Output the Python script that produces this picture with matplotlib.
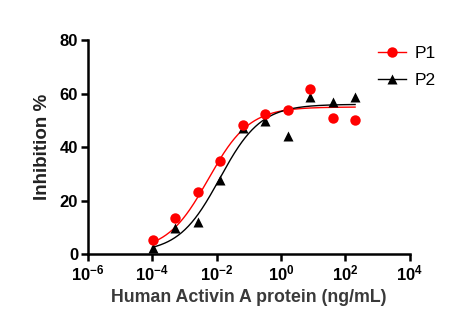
import numpy as np
import matplotlib.pyplot as plt
from matplotlib.ticker import FixedLocator, NullLocator

plt.rcParams['font.family'] = ['Liberation Sans', 'DejaVu Sans']
plt.rcParams['mathtext.fontset'] = 'custom'
plt.rcParams['mathtext.rm'] = 'Liberation Sans:bold'
plt.rcParams['mathtext.bf'] = 'Liberation Sans:bold'
plt.rcParams['mathtext.it'] = 'Liberation Sans:bold'

# concentrations (ng/mL), 5-fold dilution from 200
conc = [200, 40, 8, 1.6, 0.32, 0.064, 0.0128, 0.00256, 0.000512, 0.0001024]
p1 = [50.1, 50.8, 61.7, 53.8, 52.3, 48.2, 34.8, 23.2, 13.5, 5.2]
p2 = [58.7, 56.8, 58.7, 44.0, 49.7, 47.0, 27.7, 12.0, 9.7, 2.2]

xtick_vals = [1e-6, 1e-4, 1e-2, 1, 1e2, 1e4]
xtick_labels = ['$10^{-6}$', '$10^{-4}$', '$10^{-2}$', '$10^{0}$', '$10^{2}$', '$10^{4}$']

# 4PL fit parameters: bottom, top, EC50, hill
fit_p1 = (1.0, 55.0, 0.0055, 0.68)
fit_p2 = (0.5, 56.0, 0.0125, 0.68)


def four_pl(x, bottom, top, ec50, hill):
    return bottom + (top - bottom) / (1 + (ec50 / x) ** hill)


fig = plt.figure(figsize=(4.62, 3.16), dpi=100)
ax = fig.add_axes([0.190, 0.196, 0.697, 0.677])

xx = np.logspace(np.log10(min(conc)), np.log10(max(conc)), 300)
ax.plot(xx, four_pl(xx, *fit_p1), color='red', lw=1.0)
ax.plot(xx, four_pl(xx, *fit_p2), color='black', lw=1.0)
ax.plot(conc, p2, '^', color='black', ms=6.5, mec='none', clip_on=False)
ax.plot(conc, p1, 'o', color='red', ms=7.5, mec='none', clip_on=False)

ax.set_xscale('log')
ax.set_xlim(1e-6, 1e4)
ax.set_ylim(0, 80)
ax.xaxis.set_major_locator(FixedLocator(xtick_vals))
ax.xaxis.set_minor_locator(NullLocator())
ax.set_xticklabels(xtick_labels)
ax.set_yticks([0, 20, 40, 60, 80])

for s in ['top', 'right']:
    ax.spines[s].set_visible(False)
for s in ['left', 'bottom']:
    ax.spines[s].set_linewidth(1.8)
ax.tick_params(width=1.8, length=5, labelsize=12, pad=2)
for lab in ax.get_xticklabels() + ax.get_yticklabels():
    lab.set_fontweight('bold')

ax.set_xlabel('Human Activin A protein (ng/mL)', fontsize=12.8, fontweight='bold',
              color='#3a3a3a', labelpad=4)
ax.set_ylabel('Inhibition %', fontsize=13.5, fontweight='bold', color='#222222',
              labelpad=6)

h1, = ax.plot([], [], '-o', color='red', ms=7.5, lw=1.0, mec='none')
h2, = ax.plot([], [], '-^', color='black', ms=6.5, lw=1.0, mec='none')
fig.legend([h1, h2], ['P1', 'P2'], loc='upper left', bbox_to_anchor=(0.785, 0.905),
           frameon=False, fontsize=12.5, handlelength=1.6, labelspacing=0.7,
           handletextpad=0.5)

fig.savefig('out.png', dpi=100)
